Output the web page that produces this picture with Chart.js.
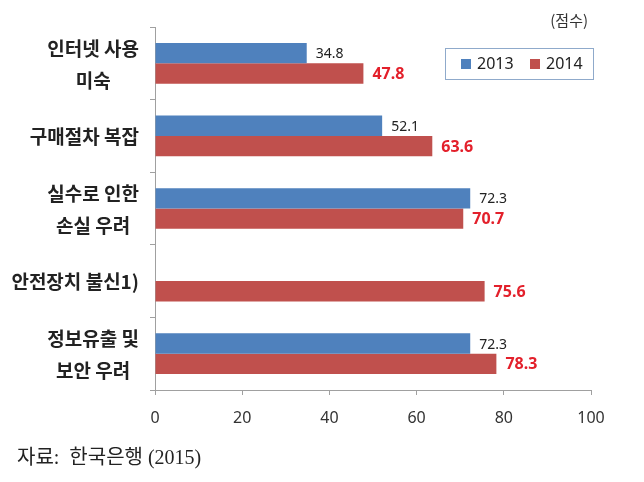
<!DOCTYPE html>
<html>
<head>
<meta charset="utf-8">
<script src="https://cdn.jsdelivr.net/npm/chart.js@4"></script>
<style>
  html, body { margin: 0; padding: 0; background: #fff; }
  #wrap { width: 644px; height: 482px; position: relative; }
</style>
</head>
<body>
<div id="wrap"><canvas id="bar-chart"></canvas></div>
<script>
// data
var categories = [
    ["인터넷 사용", "미숙"],
    ["구매절차 복잡"],
    ["실수로 인한", "손실 우려"],
    ["안전장치 불신1)"],
    ["정보유출 및", "보안 우려"]
];
var years = ["2013", "2014"];
var values2013 = [34.8, 52.1, 72.3, null, 72.3];
var values2014 = [47.8, 63.6, 70.7, 75.6, 78.3];
var xTicks = [0, 20, 40, 60, 80, 100];
var unitLabel = "(점수)";
var sourceNote = "자료:  한국은행 (2015)";

var blue = "#4f81bd";
var red = "#c0504d";
var labelFont = "'Noto Sans CJK KR', 'Noto Sans', sans-serif";

// category names, centred line by line, right edge fixed
var categoryLabels = {
    id: "categoryLabels",
    afterDraw: function (chart) {
        var ctx = chart.ctx;
        var yScale = chart.scales.y;
        ctx.save();
        ctx.font = "bold 19px " + labelFont;
        ctx.fillStyle = "#222";
        ctx.textAlign = "center";
        ctx.textBaseline = "middle";
        var lineH = 32;
        categories.forEach(function (lines, i) {
            var cy = yScale.getPixelForValue(i) + 1;
            var w = 0;
            lines.forEach(function (l) { w = Math.max(w, ctx.measureText(l).width); });
            var cx = 139 - w / 2;
            lines.forEach(function (l, k) {
                ctx.fillText(l, cx, cy + (k - (lines.length - 1) / 2) * lineH);
            });
        });
        ctx.restore();
    }
};

// numbers at the end of each bar
var valueLabels = {
    id: "valueLabels",
    afterDatasetsDraw: function (chart) {
        var ctx = chart.ctx;
        ctx.save();
        ctx.textAlign = "left";
        ctx.textBaseline = "middle";
        chart.data.datasets.forEach(function (ds, di) {
            var meta = chart.getDatasetMeta(di);
            if (di === 0) {
                ctx.font = "14px 'Noto Sans', sans-serif";
                ctx.fillStyle = "#222";
            } else {
                ctx.font = "bold 16px 'Noto Sans', sans-serif";
                ctx.fillStyle = "#e3202b";
            }
            meta.data.forEach(function (bar, i) {
                var v = ds.data[i];
                if (v === null) return;
                ctx.fillText(v.toFixed(1), bar.x + 9, bar.y + (di === 0 ? 1 : 1));
            });
        });
        ctx.restore();
    }
};

// boxed legend, unit and source note
var extras = {
    id: "extras",
    afterDraw: function (chart) {
        var ctx = chart.ctx;
        ctx.save();
        ctx.strokeStyle = "#8faacb";
        ctx.lineWidth = 1;
        ctx.fillStyle = "#fff";
        ctx.fillRect(445.5, 48.5, 148, 31);
        ctx.strokeRect(445.5, 48.5, 148, 31);
        ctx.font = "16px 'Noto Sans', sans-serif";
        ctx.textBaseline = "middle";
        ctx.textAlign = "left";
        var xs = [461, 530];
        chart.data.datasets.forEach(function (ds, i) {
            ctx.fillStyle = ds.backgroundColor;
            ctx.fillRect(xs[i], 59, 10, 10);
            ctx.fillStyle = "#222";
            ctx.fillText(ds.label, xs[i] + 16, 64);
        });

        ctx.font = "15px " + labelFont;
        ctx.fillStyle = "#333";
        ctx.textAlign = "right";
        ctx.fillText(unitLabel, 588, 20);

        ctx.font = "20px 'Liberation Serif', 'Noto Sans CJK KR', serif";
        ctx.fillStyle = "#222";
        ctx.textAlign = "left";
        ctx.fillText(sourceNote, 17, 459);
        ctx.restore();
    }
};

var ctx = document.getElementById("bar-chart").getContext("2d");

var myChart = new Chart(ctx, {
    type: "bar",
    data: {
        labels: categories.map(function (c) { return c.join(" "); }),
        datasets: [{
            label: years[0],
            data: values2013,
            backgroundColor: blue,
            categoryPercentage: 0.56,
            barPercentage: 1.0
        }, {
            label: years[1],
            data: values2014,
            backgroundColor: red,
            categoryPercentage: 0.56,
            barPercentage: 1.0
        }]
    },
    options: {
        indexAxis: "y",
        responsive: true,
        maintainAspectRatio: false,
        animation: false,
        layout: { padding: { top: 27, right: 53, left: 0, bottom: 0 } },
        plugins: {
            legend: { display: false },
            tooltip: { enabled: false }
        },
        scales: {
            x: {
                min: 0,
                max: 100,
                afterBuildTicks: function (scale) {
                    scale.ticks = xTicks.map(function (v) { return { value: v }; });
                },
                afterFit: function (scale) { scale.height = 92; },
                grid: {
                    drawOnChartArea: false,
                    drawTicks: true,
                    tickLength: 5,
                    color: "#a0a0a0"
                },
                border: { color: "#a0a0a0" },
                ticks: {
                    padding: 14,
                    color: "#333",
                    font: { size: 16, family: "'Noto Sans', sans-serif" }
                }
            },
            y: {
                afterFit: function (scale) { scale.width = 155; },
                grid: {
                    drawOnChartArea: false,
                    drawTicks: true,
                    tickLength: 5,
                    color: "#a0a0a0"
                },
                border: { color: "#a0a0a0" },
                ticks: { display: false }
            }
        }
    },
    plugins: [categoryLabels, valueLabels, extras]
});
</script>
</body>
</html>
